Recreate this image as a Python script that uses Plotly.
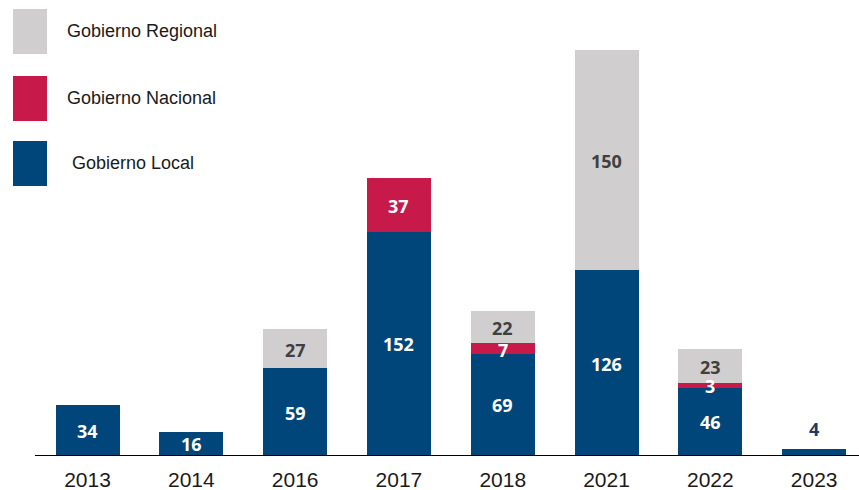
import plotly.graph_objects as go

# Datos
years = ['2013', '2014', '2016', '2017', '2018', '2021', '2022', '2023']
local = [34, 16, 59, 152, 69, 126, 46, 4]
nacional = [None, None, None, 37, 7, None, 3, None]
regional = [None, None, 27, None, 22, 150, 23, None]

C_LOCAL = '#00467a'
C_NAC = '#c8194b'
C_REG = '#d0cecf'

fig = go.Figure()
for name, vals, color in [
    ('Gobierno Local', local, C_LOCAL),
    ('Gobierno Nacional', nacional, C_NAC),
    ('Gobierno Regional', regional, C_REG),
]:
    fig.add_trace(go.Bar(x=years, y=vals, name=name, marker_color=color,
                         marker_line_width=0, showlegend=False))

# Etiquetas de datos, centradas en cada segmento
annotations = []
for i, yr in enumerate(years):
    base = 0
    for vals, col in [(local, 'white'), (nacional, 'white'), (regional, '#404040')]:
        v = vals[i]
        if v is None:
            continue
        if v < 10 and vals is local:
            # barra muy baja: etiqueta encima
            annotations.append(dict(x=i, y=base + v, text=f'<b>{v}</b>', showarrow=False,
                                    yanchor='bottom', yshift=6,
                                    font=dict(family='Open Sans', size=18, color='#203864')))
        else:
            annotations.append(dict(x=i, y=base + v / 2, text=f'<b>{v}</b>', showarrow=False,
                                    yshift=-1,
                                    font=dict(family='Open Sans', size=18, color=col)))
        base += v

# Leyenda manual con cuadrados grandes
L, T, W, H = 35, 10, 824, 445
def px(x):
    return (x - L) / W
def py(y):
    return (T + H - y) / H

shapes = []
legend = [('Gobierno Regional', C_REG, 9, 54, 65),
          ('Gobierno Nacional', C_NAC, 76, 121, 65),
          ('Gobierno Local', C_LOCAL, 141, 186, 70)]
for text, color, y0, y1, tx in legend:
    shapes.append(dict(type='rect', xref='paper', yref='paper',
                       x0=px(13), x1=px(47), y0=py(y1), y1=py(y0),
                       fillcolor=color, line_width=0))
    annotations.append(dict(xref='paper', yref='paper', x=px(tx), y=py((y0 + y1) / 2 - 0.5),
                            xanchor='left', yanchor='middle', text=text, showarrow=False,
                            font=dict(family='Liberation Sans', size=18, color='#1a1a1a')))

fig.update_layout(
    barmode='stack',
    bargap=0.383,
    width=859, height=490,
    margin=dict(l=L, r=0, t=T, b=490 - T - H),
    plot_bgcolor='white', paper_bgcolor='white',
    xaxis=dict(type='category', range=[-0.506, 7.432], showline=True, linecolor='black',
               linewidth=1.3, ticks='outside', ticklen=6, tickcolor='rgba(0,0,0,0)',
               tickfont=dict(family='Liberation Sans', size=21, color='#1a1a1a'),
               showgrid=False, automargin=False),
    yaxis=dict(range=[0, 303.3], visible=False, showgrid=False, automargin=False),
    annotations=annotations,
    shapes=shapes,
)

fig.write_html('out.html', config={'displayModeBar': False},
               post_script="document.body.style.margin='0';")
